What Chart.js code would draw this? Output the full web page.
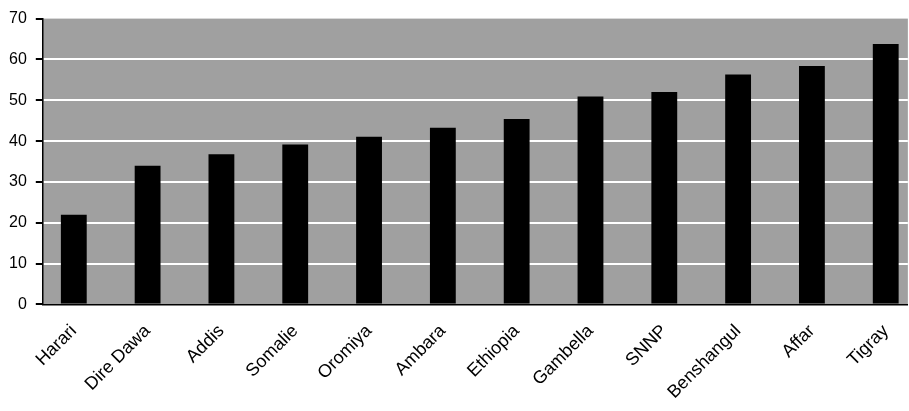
<!DOCTYPE html>
<html>
<head>
<meta charset="utf-8">
<script src="https://cdn.jsdelivr.net/npm/chart.js@4"></script>
<style>
  html, body { margin: 0; padding: 0; background: #fff; }
  #wrap { width: 909px; height: 411px; }
</style>
</head>
<body>
<div id="wrap"><canvas id="regionChart"></canvas></div>
<script>
// regions, lowest to highest
const regions = ['Harari', 'Dire Dawa', 'Addis', 'Somalie', 'Oromiya', 'Ambara',
                 'Ethiopia', 'Gambella', 'SNNP', 'Benshangul', 'Affar', 'Tigray'];
const values = [22, 34, 36.8, 39.2, 41.1, 43.3, 45.4, 50.9, 52, 56.3, 58.4, 63.8];
const yTicks = [0, 10, 20, 30, 40, 50, 60, 70];

// gray plot background
const plotBg = {
    id: 'plotBg',
    beforeDraw(chart) {
        const { ctx, chartArea: a } = chart;
        ctx.save();
        ctx.fillStyle = '#a0a0a0';
        ctx.fillRect(a.left, a.top, a.right - a.left, a.bottom - a.top);
        ctx.restore();
    }
};

const font = 'Liberation Sans, Arial, sans-serif';

const ctx = document.getElementById('regionChart').getContext('2d');
new Chart(ctx, {
    type: 'bar',
    data: {
        datasets: [{
            data: values.map((v, i) => ({ x: i, y: v })),
            backgroundColor: '#000',
            borderWidth: 0,
            barPercentage: 0.35,
            categoryPercentage: 1
        }]
    },
    options: {
        responsive: true,
        maintainAspectRatio: false,
        animation: false,
        layout: { padding: { top: 2, right: 0, left: 0, bottom: 0 } },
        plugins: { legend: { display: false }, tooltip: { enabled: false } },
        scales: {
            x: {
                type: 'linear',
                offset: false,
                min: -0.42,
                max: 11.3,
                grid: { display: false },
                border: { display: true, color: '#000', width: 1.5 },
                afterBuildTicks: axis => { axis.ticks = regions.map((r, i) => ({ value: i })); },
                ticks: {
                    includeBounds: false,
                    autoSkip: false,
                    minRotation: 45,
                    maxRotation: 45,
                    padding: 8,
                    color: '#000',
                    font: { family: font, size: 18 },
                    callback: v => regions[v]
                }
            },
            y: {
                min: 0,
                max: 70,
                afterBuildTicks: axis => { axis.ticks = yTicks.map(v => ({ value: v })); },
                grid: {
                    color: c => (c.tick && (c.tick.value === 0 || c.tick.value === 70)) ? 'rgba(0,0,0,0)' : '#fff',
                    lineWidth: 2,
                    tickColor: '#000',
                    tickLength: 7
                },
                border: { display: true, color: '#000', width: 1.5 },
                ticks: {
                    padding: 9,
                    color: '#000',
                    font: { family: font, size: 16 }
                }
            }
        }
    },
    plugins: [plotBg]
});
</script>
</body>
</html>
